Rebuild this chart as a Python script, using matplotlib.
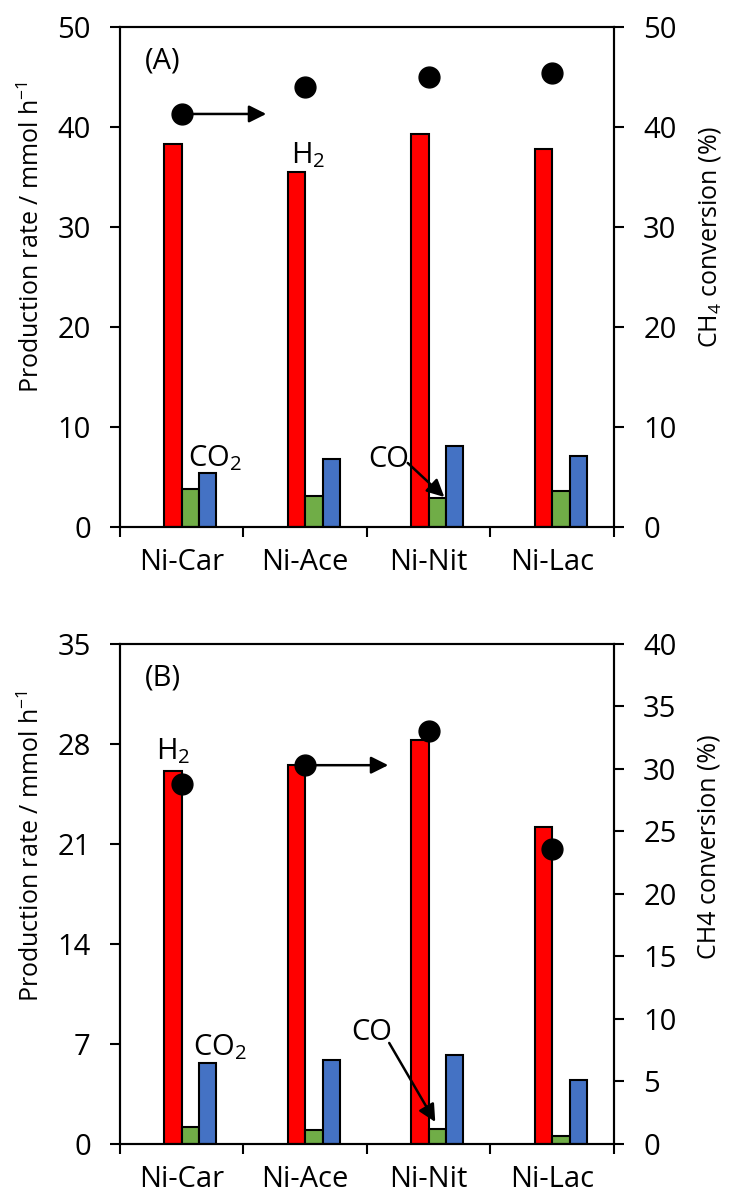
import matplotlib
matplotlib.use("Agg")
import matplotlib.pyplot as plt
import numpy as np

plt.rcParams["font.family"] = ["Open Sans", "DejaVu Sans"]
plt.rcParams["mathtext.fontset"] = "custom"
plt.rcParams["mathtext.rm"] = "Open Sans"
plt.rcParams["mathtext.it"] = "Open Sans:italic"
plt.rcParams["mathtext.bf"] = "Open Sans:bold"
plt.rcParams["axes.unicode_minus"] = True

catalysts = ["Ni-Car", "Ni-Ace", "Ni-Nit", "Ni-Lac"]

# Panel A: production rates (mmol/h) and CH4 conversion (%)
h2_a = [38.3, 35.5, 39.3, 37.8]
co_a = [3.8, 3.1, 2.9, 3.6]
co2_a = [5.4, 6.8, 8.1, 7.1]
conv_a = [41.3, 44.0, 45.0, 45.4]

# Panel B
h2_b = [26.1, 26.5, 28.3, 22.2]
co_b = [1.17, 0.98, 1.03, 0.56]
co2_b = [5.7, 5.9, 6.25, 4.5]
conv_b = [28.8, 30.3, 33.0, 23.6]

left_ticks_a = [0, 10, 20, 30, 40, 50]
right_ticks_a = [0, 10, 20, 30, 40, 50]
left_ticks_b = [0, 7, 14, 21, 28, 35]
right_ticks_b = [0, 5, 10, 15, 20, 25, 30, 35, 40]

RED = "#FF0000"
GREEN = "#70AD47"
BLUE = "#4472C4"

TICK_FS = 21
LABEL_FS = 18

fig = plt.figure(figsize=(7.29, 11.98), dpi=100)


def style_axes(ax, ax2, lticks, rticks):
    x = np.arange(len(catalysts))
    ax.set_xlim(-0.5, len(catalysts) - 0.5)
    ax.set_xticks(np.arange(len(catalysts) + 1) - 0.5)
    ax.set_xticklabels([])
    ax.set_xticks(x, minor=True)
    ax.set_xticklabels(catalysts, minor=True, fontsize=TICK_FS)
    ax.tick_params(axis="x", which="major", direction="out", length=7, width=1.5)
    ax.tick_params(axis="x", which="minor", length=0, pad=15)
    ax.set_ylim(lticks[0], lticks[-1])
    ax.set_yticks(lticks)
    ax.tick_params(axis="y", direction="out", length=7, width=1.5,
                   labelsize=TICK_FS, pad=14)
    ax2.set_ylim(rticks[0], rticks[-1])
    ax2.set_yticks(rticks)
    ax2.tick_params(axis="y", direction="out", length=7, width=1.5,
                    labelsize=TICK_FS, pad=14)
    for a in (ax, ax2):
        for sp in a.spines.values():
            sp.set_linewidth(1.5)


def draw_panel(rect, h2, co, co2, conv, lticks, rticks, ylab, ylab2, label_y):
    ax = fig.add_axes(rect)
    x = np.arange(len(catalysts))
    w = 0.14
    ax.bar(x - 0.5 * w, h2, w, color=RED, edgecolor="black", linewidth=1.5)
    ax.bar(x + 0.5 * w, co, w, color=GREEN, edgecolor="black", linewidth=1.5)
    ax.bar(x + 1.5 * w, co2, w, color=BLUE, edgecolor="black", linewidth=1.5)
    ax2 = ax.twinx()
    ax2.plot(x, conv, "o", color="black", markersize=15, linestyle="none")
    style_axes(ax, ax2, lticks, rticks)
    ax.set_ylabel(ylab, fontsize=LABEL_FS)
    ax.yaxis.set_label_coords(-0.152, label_y)
    ax2.set_ylabel(ylab2, fontsize=LABEL_FS)
    ax2.yaxis.set_label_coords(1.168, label_y)
    return ax, ax2


arrow_kw = dict(arrowstyle="-|>", color="black", lw=1.8,
                mutation_scale=26, shrinkA=0, shrinkB=0)

# ---- Panel A ----
axA, axA2 = draw_panel([0.1646, 0.5601, 0.6776, 0.4174],
                       h2_a, co_a, co2_a, conv_a, left_ticks_a, right_ticks_a,
                       "Production rate / mmol h$^{-1}$",
                       "CH$_4$ conversion (%)", 0.58)
axA.text(0.05, 0.96, "(A)", transform=axA.transAxes, fontsize=TICK_FS,
         ha="left", va="top")
axA.text(0.887, 36.4, "H$_2$", fontsize=TICK_FS, ha="left", va="baseline")
axA.text(0.053, 6.1, "CO$_2$", fontsize=TICK_FS, ha="left", va="baseline")
axA.text(1.51, 6.0, "CO", fontsize=TICK_FS, ha="left", va="baseline")
axA.annotate("", xy=(2.126, 3.0), xytext=(1.83, 6.4), arrowprops=arrow_kw)
axA2.annotate("", xy=(0.684, conv_a[0]), xytext=(0, conv_a[0]),
              arrowprops=arrow_kw)

# ---- Panel B ----
axB, axB2 = draw_panel([0.1646, 0.0451, 0.6776, 0.4174],
                       h2_b, co_b, co2_b, conv_b, left_ticks_b, right_ticks_b,
                       "Production rate / mmol h$^{\\mathrm{-1}}$",
                       "CH4 conversion (%)", 0.595)
axB.text(0.05, 0.96, "(B)", transform=axB.transAxes, fontsize=TICK_FS,
         ha="left", va="top")
axB.text(-0.206, 26.9, "H$_2$", fontsize=TICK_FS, ha="left", va="baseline")
axB.text(0.093, 6.2, "CO$_2$", fontsize=TICK_FS, ha="left", va="baseline")
axB.text(1.372, 7.3, "CO", fontsize=TICK_FS, ha="left", va="baseline")
axB.annotate("", xy=(2.053, 1.54), xytext=(1.68, 7.07), arrowprops=arrow_kw)
axB2.annotate("", xy=(1.672, conv_b[1]), xytext=(1, conv_b[1]),
              arrowprops=arrow_kw)

fig.savefig("out.png", dpi=100)
